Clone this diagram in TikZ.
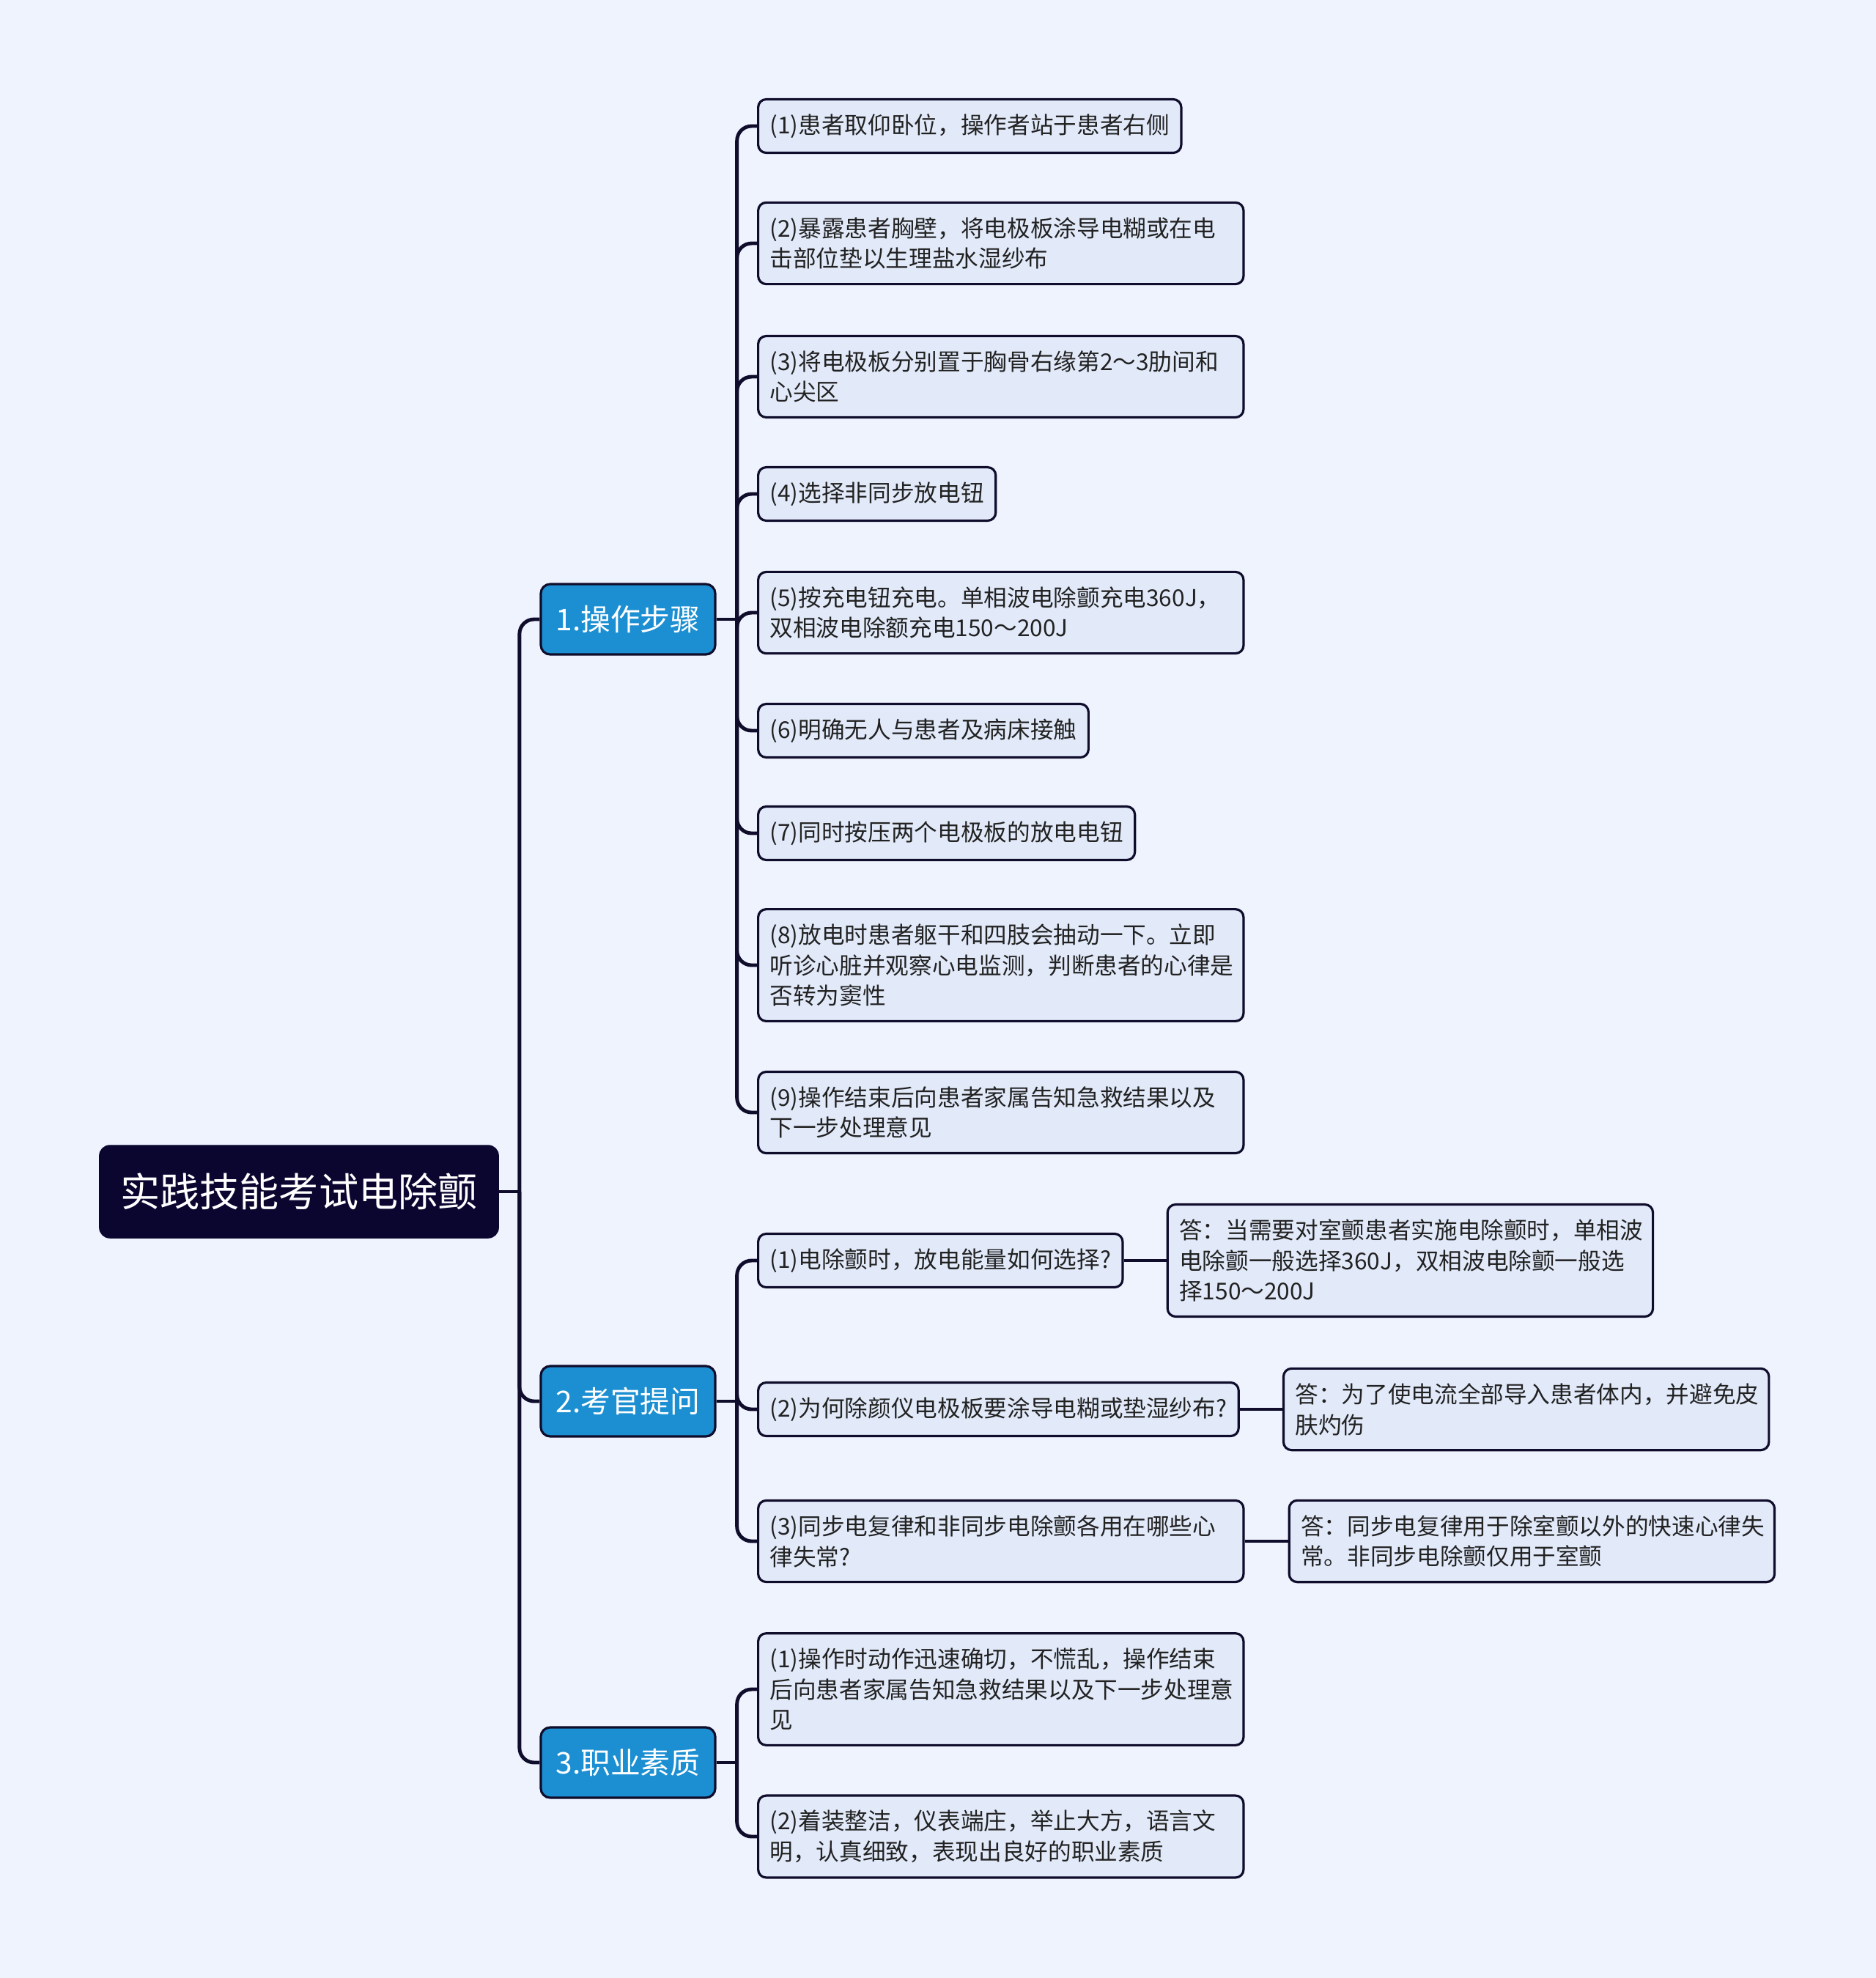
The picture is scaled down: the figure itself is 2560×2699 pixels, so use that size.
\documentclass[tikz,border=0pt]{standalone}
\usepackage{fontspec}
\setmainfont{Noto Sans CJK SC}
\usetikzlibrary{positioning}
\definecolor{bgpaper}{HTML}{EEF3FE}
\definecolor{leaffill}{HTML}{E2EAFA}
\definecolor{inkline}{HTML}{100D2C}
\definecolor{rootfill}{HTML}{0B0630}
\definecolor{topicblue}{HTML}{1B8FD2}
\definecolor{leaftext}{HTML}{222222}
\tikzset{
  rootbox/.style={draw=rootfill, fill=rootfill, text=white, rounded corners=0.14cm,
    minimum width=5.44cm, minimum height=1.26cm, font=\fontsize{15.4pt}{18pt}\selectfont},
  topic/.style={draw=inkline, line width=0.9pt, fill=topicblue, text=white, rounded corners=0.13cm,
    minimum width=2.38cm, minimum height=0.96cm, inner sep=0pt, font=\fontsize{11.6pt}{14pt}\selectfont},
  leaf/.style={anchor=west, draw=inkline, line width=0.9pt, fill=leaffill, text=leaftext,
    rounded corners=0.11cm, inner xsep=0.16cm, inner ysep=0.2cm, minimum height=0.72cm,
    align=left, font=\fontsize{9pt}{11.86pt}\selectfont},
  leafwide/.style={leaf, text width=6.30cm},
  conn/.style={draw=inkline, line width=1.4pt, rounded corners=0.2cm},
}
\begin{document}
\begin{tikzpicture}[x=0.01cm, y=-0.01cm]
  \fill[bgpaper] (0,0) rectangle (2560,2699);
  \useasboundingbox (0,0) rectangle (2560,2699);

  % root and main topics
  \node[rootbox] (root) at (408,1626) {实践技能考试电除颤};
  \node[topic] (s1) at (857,845) {1.操作步骤};
  \node[topic] (s2) at (857,1912) {2.考官提问};
  \node[topic] (s3) at (857,2405) {3.职业素质};

  % 1. steps
  \node[leaf] (p1) at (1033,172) {(1)患者取仰卧位，操作者站于患者右侧};
  \node[leafwide] (p2) at (1033,332) {(2)暴露患者胸壁，将电极板涂导电糊或在电\\击部位垫以生理盐水湿纱布};
  \node[leafwide] (p3) at (1033,514) {(3)将电极板分别置于胸骨右缘第2～3肋间和\\心尖区};
  \node[leaf] (p4) at (1033,674) {(4)选择非同步放电钮};
  \node[leafwide] (p5) at (1033,836) {(5)按充电钮充电。单相波电除颤充电360J，\\双相波电除额充电150～200J};
  \node[leaf] (p6) at (1033,997) {(6)明确无人与患者及病床接触};
  \node[leaf] (p7) at (1033,1137) {(7)同时按压两个电极板的放电电钮};
  \node[leafwide] (p8) at (1033,1317) {(8)放电时患者躯干和四肢会抽动一下。立即\\听诊心脏并观察心电监测，判断患者的心律是\\否转为窦性};
  \node[leafwide] (p9) at (1033,1518) {(9)操作结束后向患者家属告知急救结果以及\\下一步处理意见};

  % 2. questions and answers
  \node[leaf] (q1) at (1033,1720) {(1)电除颤时，放电能量如何选择?};
  \node[leaf] (q2) at (1033,1923) {(2)为何除颜仪电极板要涂导电糊或垫湿纱布?};
  \node[leafwide] (q3) at (1033,2103) {(3)同步电复律和非同步电除颤各用在哪些心\\律失常?};
  \node[leafwide, right=0.58cm of q1] (a1) {答：当需要对室颤患者实施电除颤时，单相波\\电除颤一般选择360J，双相波电除颤一般选\\择150～200J};
  \node[leafwide, right=0.58cm of q2] (a2) {答：为了使电流全部导入患者体内，并避免皮\\肤灼伤};
  \node[leafwide, right=0.59cm of q3] (a3) {答：同步电复律用于除室颤以外的快速心律失\\常。非同步电除颤仅用于室颤};

  % 3. professional quality
  \node[leafwide] (r1) at (1033,2305) {(1)操作时动作迅速确切，不慌乱，操作结束\\后向患者家属告知急救结果以及下一步处理意\\见};
  \node[leafwide] (r2) at (1033,2506) {(2)着装整洁，仪表端庄，举止大方，语言文\\明，认真细致，表现出良好的职业素质};

  % connectors
  \coordinate (jr) at ([xshift=0.28cm]root.east);
  \draw[conn] (root.east) -- (jr);
  \foreach \n in {s1,s2,s3} \draw[conn] (jr) |- (\n.west);

  \coordinate (j1) at ([xshift=0.28cm]s1.east);
  \draw[conn] (s1.east) -- (j1);
  \foreach \n in {p1,p2,p3,p4,p5,p6,p7,p8,p9} \draw[conn] (j1) |- (\n.west);

  \coordinate (j2) at ([xshift=0.28cm]s2.east);
  \draw[conn] (s2.east) -- (j2);
  \foreach \n in {q1,q2,q3} \draw[conn] (j2) |- (\n.west);
  \draw[conn] (q1.east) -- (a1.west);
  \draw[conn] (q2.east) -- (a2.west);
  \draw[conn] (q3.east) -- (a3.west);

  \coordinate (j3) at ([xshift=0.28cm]s3.east);
  \draw[conn] (s3.east) -- (j3);
  \foreach \n in {r1,r2} \draw[conn] (j3) |- (\n.west);
\end{tikzpicture}
\end{document}
